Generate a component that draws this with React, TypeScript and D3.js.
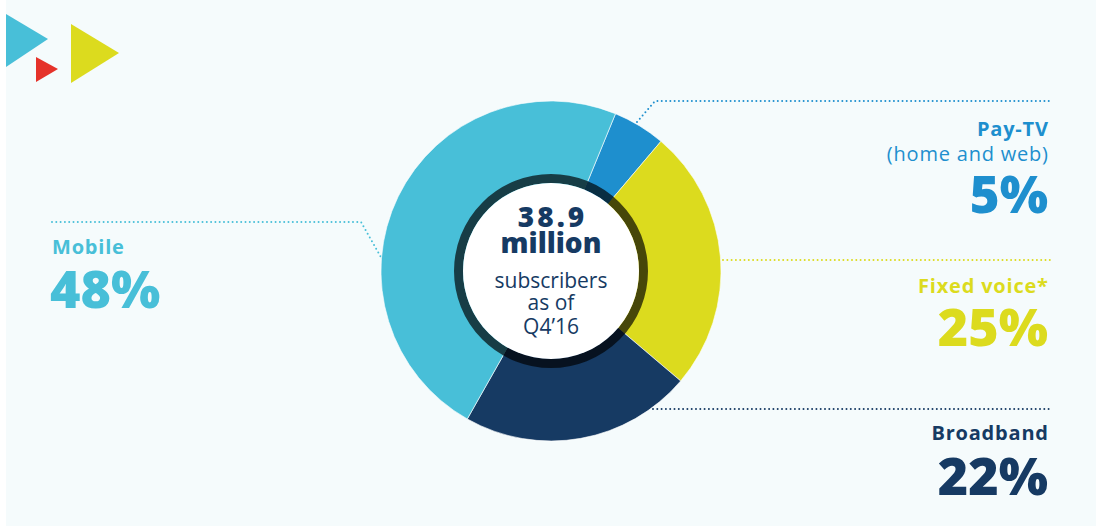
import React from "react";
import * as d3 from "d3";

const categories = ["Pay-TV", "Fixed voice*", "Broadband", "Mobile"];
const values = [5, 25, 22, 48];
const colors = ["#1e8fce", "#dcdb1e", "#163a63", "#48bfd8"];
const subLabels = ["(home and web)", "", "", ""];
const centerLines = ["38.9", "million", "subscribers", "as of", "Q4\u201916"];

const W = 1096;
const H = 526;
const CX = 551;
const CY = 271;
const R_OUT = 170;
const R_RING = 97;
const R_IN = 88;
const FONT = "'Open Sans', Lato, sans-serif";

export default function App() {
  const pie = d3
    .pie<number>()
    .sort(null)
    .value((d) => d)
    .startAngle((22.3 * Math.PI) / 180)
    .endAngle((22.3 * Math.PI) / 180 + 2 * Math.PI);
  const arcs = pie(values);
  const arcGen = d3.arc<d3.PieArcDatum<number>>().innerRadius(0).outerRadius(R_OUT);
  const ringGen = d3.arc<d3.PieArcDatum<number>>().innerRadius(R_IN).outerRadius(R_RING);

  const dot = { strokeWidth: 2, strokeDasharray: "0 4.3", strokeLinecap: "round" as const, fill: "none" };
  const ls = 0.8;

  return (
    <svg width={W} height={H} style={{ position: "absolute", left: 0, top: 0 }} fontFamily={FONT}>
      <rect x={0} y={0} width={W} height={H} fill="#ffffff" />
      <rect x={6} y={0} width={W - 6} height={H} fill="#f5fbfc" />
      {/* logo */}
      <polygon points="6,14 48,39 6,67" fill="#48bfd8" />
      <polygon points="36,57 58,69 36,82" fill="#e5322a" />
      <polygon points="71,24 119,53 71,83" fill="#dcdb1e" />

      {/* leader lines */}
      <polyline points="637,122 655,101 1051,101" stroke={colors[0]} {...dot} />
      <polyline points="723,260 1051,260" stroke={colors[1]} {...dot} />
      <polyline points="653,409 1051,409" stroke={colors[2]} {...dot} />
      <polyline points="52,222 361,222 382,259" stroke={colors[3]} {...dot} />

      <g transform={`translate(${CX},${CY})`}>
        {arcs.map((a, i) => (
          <path key={i} d={arcGen(a) || ""} fill={colors[i]} stroke="#ffffff" strokeWidth={0.6} />
        ))}
        {arcs.map((a, i) => (
          <path key={"r" + i} d={ringGen(a) || ""} fill={colors[i]} />
        ))}
        <circle r={(R_IN + R_RING) / 2} fill="none" stroke="#000000" strokeOpacity={0.68} strokeWidth={R_RING - R_IN} />
        <circle r={R_IN} fill="#ffffff" />
        <g textAnchor="middle" fill="#163a63">
          <text x={1.5} y={-44} fontSize={28} fontWeight={800} letterSpacing={3}>{centerLines[0]}</text>
          <text x={0} y={-18} fontSize={28} fontWeight={800}>{centerLines[1]}</text>
          <text x={0} y={17} fontSize={21} fontWeight={400}>{centerLines[2]}</text>
          <text x={0} y={39} fontSize={21} fontWeight={400}>{centerLines[3]}</text>
          <text x={0} y={63} fontSize={21} fontWeight={400}>{centerLines[4]}</text>
        </g>
      </g>

      {/* labels */}
      <g textAnchor="end">
        <text x={1048 + ls} y={136} fontSize={20} fontWeight={700} letterSpacing={ls} fill={colors[0]}>{categories[0]}</text>
        <text x={1048 + ls} y={161} fontSize={20} fontWeight={400} letterSpacing={ls} fill={colors[0]}>{subLabels[0]}</text>
        <text x={1048} y={213} fontSize={51} fontWeight={800} fill={colors[0]}>{values[0]}%</text>

        <text x={1048 + ls} y={293} fontSize={20} fontWeight={700} letterSpacing={ls} fill={colors[1]}>{categories[1]}</text>
        <text x={1048} y={346} fontSize={52} fontWeight={800} fill={colors[1]}>{values[1]}%</text>

        <text x={1048 + ls} y={440} fontSize={20} fontWeight={700} letterSpacing={ls} fill={colors[2]}>{categories[2]}</text>
        <text x={1048} y={495} fontSize={52} fontWeight={800} fill={colors[2]}>{values[2]}%</text>
      </g>
      <text x={52} y={254} fontSize={20} fontWeight={700} letterSpacing={ls} fill={colors[3]}>{categories[3]}</text>
      <text x={50} y={308} fontSize={52} fontWeight={800} fill={colors[3]}>{values[3]}%</text>
    </svg>
  );
}
